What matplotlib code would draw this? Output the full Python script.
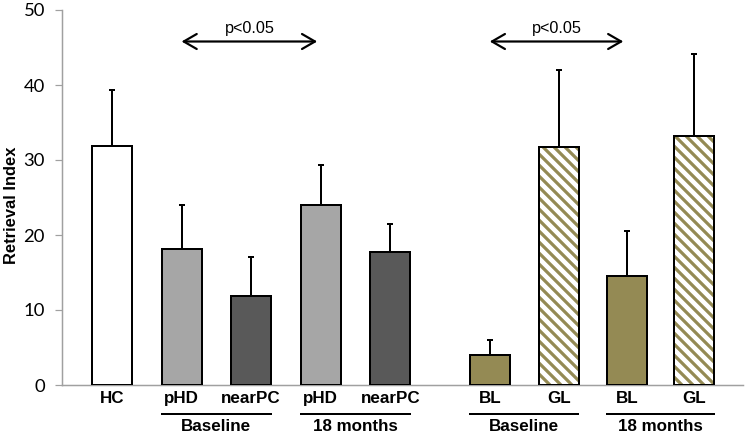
import matplotlib
matplotlib.use("Agg")
import matplotlib.pyplot as plt

# ---- data ----
categories = ["HC", "pHD", "nearPC", "pHD", "nearPC", "BL", "GL", "BL", "GL"]
values = [31.9, 18.1, 11.9, 24.0, 17.7, 4.0, 31.8, 14.6, 33.2]
errors = [7.4, 5.9, 5.2, 5.4, 3.8, 2.0, 10.2, 5.9, 11.0]
group_labels = ["Baseline", "18 months", "Baseline", "18 months"]
yticks = [0, 10, 20, 30, 40, 50]
p_label = "p<0.05"

# ---- layout / style ----
positions = [0, 1, 2, 3, 4, 5.43, 6.42, 7.40, 8.37]
face = ["white", "#A6A6A6", "#595959", "#A6A6A6", "#595959",
        "#948A54", "white", "#948A54", "white"]
hatched = [False, False, False, False, False, False, True, False, True]
olive = "#948A54"
group_pairs = [(1, 2), (3, 4), (5, 6), (7, 8)]
arrow_pairs = [(1, 3), (5, 7)]

DPI = 66
W, H = 746, 434
PT = 72.0 / DPI  # points per pixel

plt.rcParams["hatch.linewidth"] = 3.2 * PT
plt.rcParams["font.family"] = ["Liberation Sans", "DejaVu Sans"]

fig = plt.figure(figsize=(W / DPI, H / DPI), dpi=DPI)
ax = fig.add_axes([62 / W, (H - 385) / H, (743 - 62) / W, (385 - 10) / H])

bw = 0.575
for x, v, e, fc, h in zip(positions, values, errors, face, hatched):
    if h:
        ax.bar(x, v, width=bw, facecolor="white", edgecolor=olive,
               linewidth=0, hatch="\\\\", zorder=2)
        ax.bar(x, v, width=bw, fill=False, edgecolor="black",
               linewidth=2 * PT, zorder=3)
    else:
        ax.bar(x, v, width=bw, facecolor=fc, edgecolor="black",
               linewidth=2 * PT, zorder=3)
    ax.errorbar(x, v, yerr=[[0], [e]], fmt="none", ecolor="black",
                elinewidth=2 * PT, capsize=3.5 * PT, capthick=2 * PT, zorder=2)

ax.set_xlim(-0.718, 9.07)
ax.set_ylim(0, 50)
ax.set_yticks(yticks)
ax.set_yticklabels([str(t) for t in yticks], family=["Lato", "DejaVu Sans"],
                   fontsize=18.5 * PT)
ax.set_xticks(positions)
ax.set_xticklabels(categories, fontweight="bold", fontsize=17 * PT)
ax.tick_params(axis="x", length=0, pad=6 * PT)
ax.tick_params(axis="y", length=7 * PT, width=1.2 * PT, color="#A0A0A0",
               pad=10 * PT)

for s in ["top", "right"]:
    ax.spines[s].set_visible(False)
for s in ["left", "bottom"]:
    ax.spines[s].set_color("#A0A0A0")
    ax.spines[s].set_linewidth(1.5 * PT)

ax.set_ylabel("Retrieval Index", fontweight="bold", fontsize=16.5 * PT)
ax.yaxis.set_label_coords((19 - 62) / (743 - 62), (385 - 205) / 375)

# group underlines and labels
for (a, b), lab in zip(group_pairs, group_labels):
    x0 = positions[a] - 0.3
    x1 = positions[b] + 0.3
    ax.plot([x0, x1], [-3.87, -3.87], color="black", lw=2 * PT,
            clip_on=False, solid_capstyle="butt")
    ax.text((positions[a] + positions[b]) / 2, -5.5, lab, ha="center",
            va="center", fontweight="bold", fontsize=17 * PT, clip_on=False)

# significance arrows
for a, b in arrow_pairs:
    xa, xb = positions[a], positions[b] - 0.05
    ax.annotate("", xy=(xb, 45.8), xytext=(xa, 45.8),
                arrowprops=dict(arrowstyle="<->,head_length=1.3,head_width=0.75",
                                lw=2.2 * PT, color="black", mutation_scale=10 * PT,
                                shrinkA=0, shrinkB=0))
    ax.text((xa + xb) / 2, 47.6, p_label, ha="center", va="center",
            fontsize=16.3 * PT)

fig.savefig("out.png", dpi=DPI)
